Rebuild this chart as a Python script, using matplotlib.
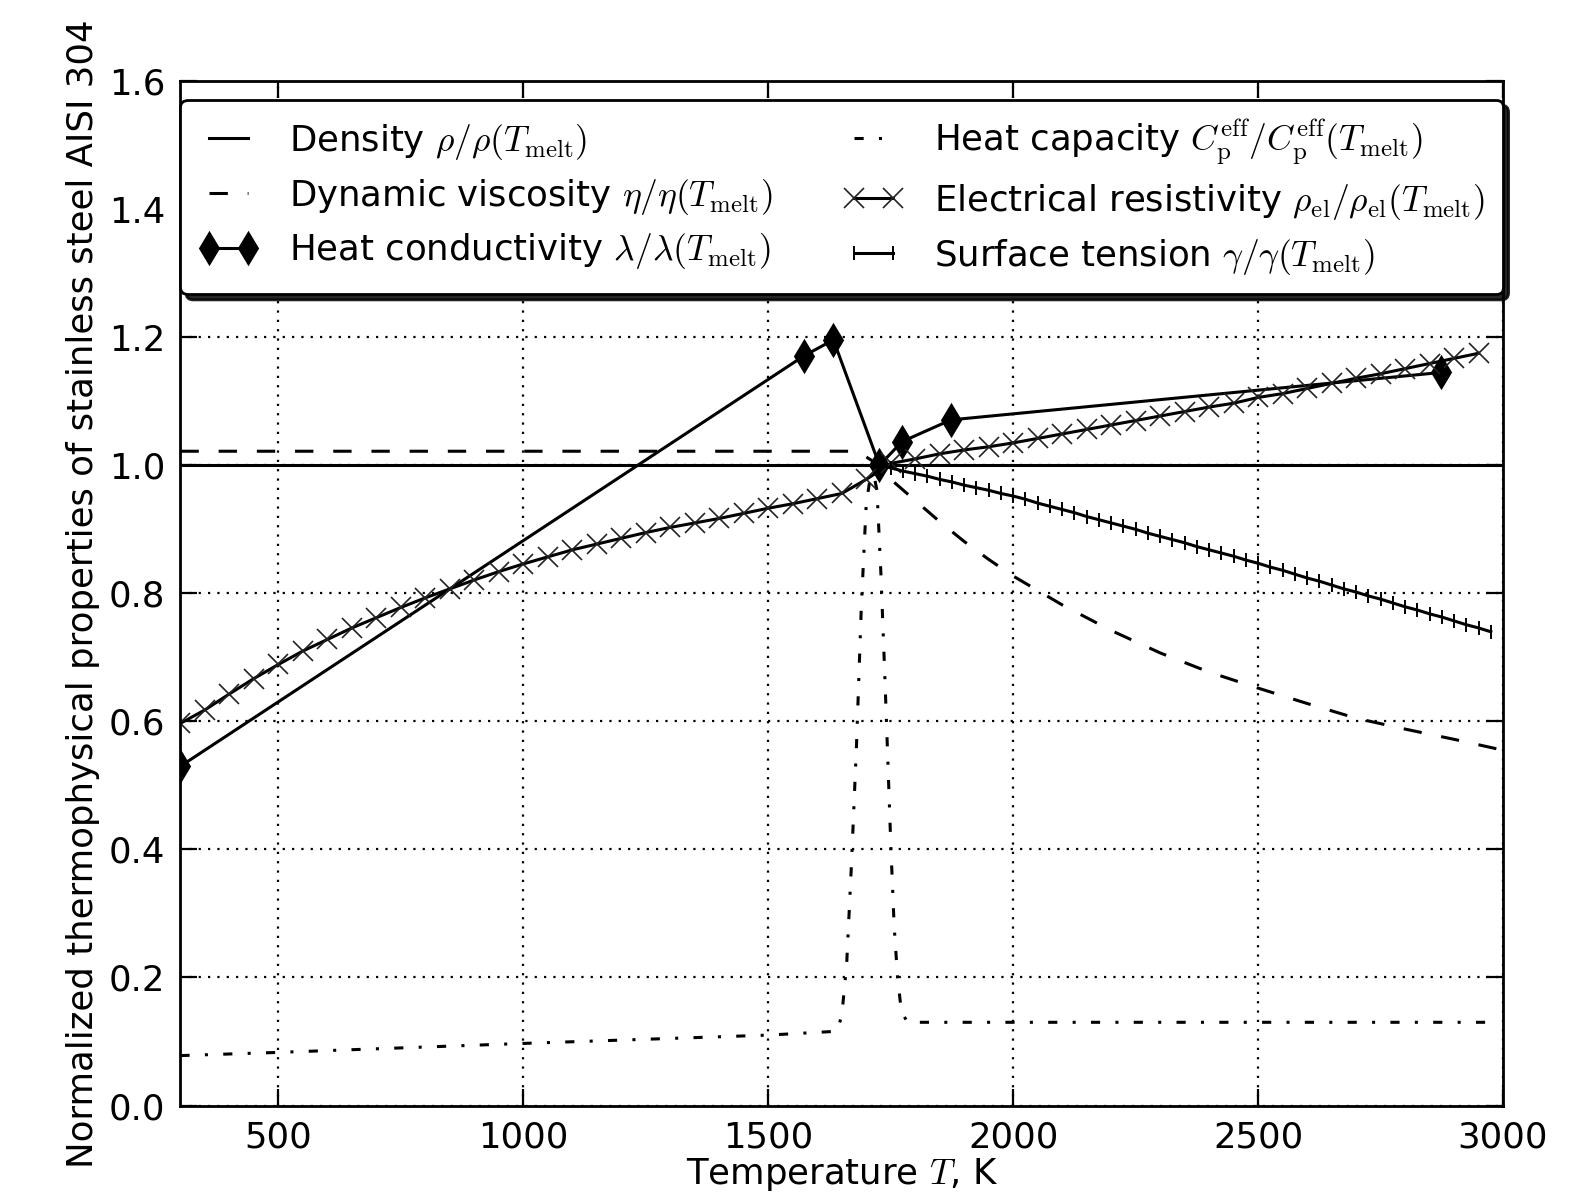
import numpy as np
import matplotlib.pyplot as plt

plt.rcParams['mathtext.fontset'] = 'cm'
plt.rcParams['font.family'] = 'DejaVu Sans'
plt.rcParams['font.size'] = 12.8

# density, normalised to T_melt
T_dens = [300, 3000]
dens = [1.0, 1.0]

# dynamic viscosity
T_visc = [300, 1680, 1700, 1727, 1750, 1800, 1850, 1900, 1950, 2000,
          2100, 2200, 2300, 2400, 2500, 2600, 2700, 2800, 2900, 3000]
visc = [1.022, 1.022, 1.013, 1.0, 0.978, 0.945, 0.912, 0.881, 0.853, 0.827,
        0.782, 0.742, 0.707, 0.677, 0.652, 0.628, 0.605, 0.588, 0.572, 0.555]

# heat conductivity
T_lam = [300, 1573, 1633, 1727, 1773, 1873, 2873]
lam = [0.53, 1.171, 1.196, 1.0, 1.037, 1.071, 1.145]

# effective heat capacity
T_cp = [300, 500, 1000, 1500, 1640, 1650, 1660, 1670, 1680, 1690, 1700, 1712,
        1722, 1730, 1738, 1745, 1750, 1757, 1764, 1772, 1785, 2000, 2500, 2975]
cp = [0.078, 0.083, 0.097, 0.110, 0.116, 0.14, 0.22, 0.38, 0.56, 0.78, 0.94, 1.0,
      0.96, 0.83, 0.67, 0.52, 0.41, 0.28, 0.20, 0.145, 0.13, 0.13, 0.13, 0.13]

# electrical resistivity, every 50 K
T_el = np.arange(300, 2951, 50)
rho_el = [0.597, 0.618, 0.643, 0.667, 0.689, 0.710, 0.728, 0.746, 0.762, 0.778,
          0.793, 0.807, 0.821, 0.834, 0.846, 0.857, 0.868, 0.877, 0.886, 0.895,
          0.903, 0.910, 0.917, 0.925, 0.933, 0.940, 0.948, 0.956, 0.978,
          1.003, 1.010, 1.018, 1.024, 1.029, 1.035, 1.042, 1.049, 1.056, 1.063,
          1.070, 1.077, 1.084, 1.091, 1.097, 1.106, 1.112, 1.120, 1.128, 1.136,
          1.143, 1.151, 1.159, 1.167, 1.175]

# surface tension, every 25 K
T_st = np.arange(1725, 2976, 25)
gam = [1.000, 0.996, 0.991, 0.987, 0.983, 0.978, 0.974, 0.969, 0.965, 0.961,
       0.956, 0.952, 0.947, 0.941, 0.936, 0.931, 0.926, 0.920, 0.915, 0.910,
       0.905, 0.900, 0.894, 0.889, 0.884, 0.879, 0.873, 0.868, 0.863, 0.858,
       0.852, 0.847, 0.841, 0.836, 0.830, 0.824, 0.819, 0.813, 0.807, 0.802,
       0.796, 0.791, 0.785, 0.779, 0.774, 0.768, 0.763, 0.757, 0.751, 0.746,
       0.740]

fig = plt.figure(figsize=(7.95, 5.97), dpi=200)
ax = fig.add_axes([0.1135, 0.0741, 0.8318, 0.8579])

lw = 1.1
ax.plot(T_dens, dens, 'k-', lw=lw,
        label=r'Density $\rho/\rho(T_{\rm melt})$')
ax.plot(T_visc, visc, 'k', lw=lw, dashes=(6, 6.5),
        label=r'Dynamic viscosity $\eta/\eta(T_{\rm melt})$')
ax.plot(T_lam, lam, 'k-', lw=lw, marker='d', ms=7.5, mfc='k', mec='k',
        label=r'Heat conductivity $\lambda/\lambda(T_{\rm melt})$')
ax.plot(T_cp, cp, 'k', lw=lw, dashes=(3, 5, 1, 5),
        label=r'Heat capacity $C_{\rm p}^{\rm eff}/C_{\rm p}^{\rm eff}(T_{\rm melt})$')
ax.plot(T_el, rho_el, 'k-', lw=lw, marker='x', ms=7, mew=0.6, mec='#222222',
        label=r'Electrical resistivity $\rho_{\rm el}/\rho_{\rm el}(T_{\rm melt})$')
ax.plot(T_st, gam, 'k-', lw=lw, marker='|', ms=5, mew=0.7,
        label=r'Surface tension $\gamma/\gamma(T_{\rm melt})$')

ax.set_xlim(300, 3000)
ax.set_ylim(0, 1.6)
ax.set_xticks([500, 1000, 1500, 2000, 2500, 3000])
ax.set_yticks(np.arange(0, 1.61, 0.2))
ax.yaxis.set_major_formatter(plt.FormatStrFormatter('%.1f'))
ax.tick_params(direction='in', length=6, width=0.8, top=True, right=True, pad=5.5)
ax.grid(True, color='k', lw=0.8, dashes=(1, 3.2))
for s in ax.spines.values():
    s.set_linewidth(1.0)

ax.set_xlabel(r'Temperature $T$, K', labelpad=0.5)
ax.set_ylabel('Normalized thermophysical properties of stainless steel AISI 304',
              labelpad=3)

leg = ax.legend(loc='upper center', bbox_to_anchor=(0, 0, 1, 0.982), mode='expand',
                ncol=2, numpoints=2, borderaxespad=0, fancybox=True,
                shadow={'color': 'k', 'alpha': 0.85},
                framealpha=1, edgecolor='k', handlelength=1.7, labelspacing=0.42,
                handletextpad=0.85, borderpad=0.5)
leg.get_frame().set_linewidth(1.0)

fig.savefig('out.png', dpi=200, facecolor='white')
